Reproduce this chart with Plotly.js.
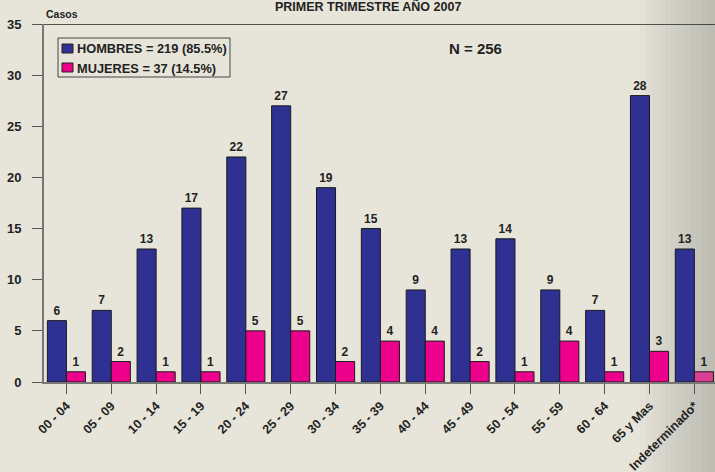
<!DOCTYPE html>
<html>
<head>
<meta charset="utf-8">
<script src="https://cdn.plot.ly/plotly-3.0.1.min.js"></script>
<style>html,body{margin:0;padding:0;background:#E7E5D9;}#chart{width:715px;height:472px;}</style>
</head>
<body>
<div id="chart"></div>
<script>
const categories = ["00 - 04","05 - 09","10 - 14","15 - 19","20 - 24","25 - 29","30 - 34","35 - 39","40 - 44","45 - 49","50 - 54","55 - 59","60 - 64","65 y Mas","Indeterminado*"];
const hombres = [6,7,13,17,22,27,19,15,9,13,14,9,7,28,13];
const mujeres = [1,2,1,1,5,5,2,4,4,2,1,4,1,3,1];
const hombresName = "HOMBRES = 219 (85.5%)";
const mujeresName = "MUJERES = 37 (14.5%)";
const titleText = "PRIMER TRIMESTRE AÑO 2007";
const yTitle = "Casos";
const nText = "N = 256";

const F = "Liberation Sans, Arial, sans-serif";
const blue = "#2E3192";
const pink = "#EC008C";
const pinkColors = mujeres.map((v,i)=> i===mujeres.length-1 ? "#D93E92" : pink);

const traces = [
  {type:"bar", x:categories, y:hombres, name:hombresName, text:hombres.map(String),
   textposition:"outside", cliponaxis:false, showlegend:false,
   textfont:{family:F, size:12, color:"#222", weight:"bold"},
   marker:{color:blue, line:{color:"#1a1a1a", width:1}}},
  {type:"bar", x:categories, y:mujeres, name:mujeresName, text:mujeres.map(String),
   textposition:"outside", cliponaxis:false, showlegend:false,
   textfont:{family:F, size:12, color:"#222", weight:"bold"},
   marker:{color:pinkColors, line:{color:"#1a1a1a", width:1}}}
];

// pixel -> paper helpers (plot area: x 44..715, y 24..382)
const px = x => (x-44)/671;
const py = y => 1 - (y-24)/358;

const shapes = [];
// right-edge shading
const nS = 12;
for (let i=0;i<nS;i++){
  const x0 = 640 + i*(75/nS);
  shapes.push({type:"rect", xref:"paper", yref:"paper",
    x0:px(x0), x1:px(715), y0:-0.3, y1:1.1,
    fillcolor:"rgba(90,85,70,0.025)", line:{width:0}, layer:"below"});
}
shapes.push({type:"line", xref:"paper", yref:"y", x0:0, x1:1, y0:35, y1:35,
  line:{color:"#222", width:1.5}});
// legend box and swatches
shapes.push({type:"rect", xref:"paper", yref:"paper", x0:px(58), x1:px(230), y0:py(77), y1:py(38),
  fillcolor:"#E7E5D9", line:{color:"#444", width:1}});
shapes.push({type:"rect", xref:"paper", yref:"paper", x0:px(62), x1:px(73), y0:py(53), y1:py(44),
  fillcolor:blue, line:{color:"#222", width:1}});
shapes.push({type:"rect", xref:"paper", yref:"paper", x0:px(62), x1:px(73), y0:py(72), y1:py(63),
  fillcolor:pink, line:{color:"#222", width:1}});

const layout = {
  width:715, height:472,
  paper_bgcolor:"#E7E5D9", plot_bgcolor:"rgba(0,0,0,0)",
  margin:{l:44, r:0, t:24, b:90},
  barmode:"group", bargap:0.15, bargroupgap:0,
  showlegend:false,
  xaxis:{type:"category", range:[-0.5,14.46], showgrid:false, zeroline:false,
    showline:true, linecolor:"#777", linewidth:1.5,
    ticks:"outside", ticklen:10, tickcolor:"#555", tickwidth:1,
    tickangle:-45, tickfont:{family:F, size:12.5, color:"#222", weight:"bold"}},
  yaxis:{range:[0,35], tickvals:[0,5,10,15,20,25,30,35], showgrid:false, zeroline:false,
    showline:true, linecolor:"#777", linewidth:2,
    ticks:"outside", ticklen:10, tickcolor:"#555", tickwidth:1,
    ticklabelstandoff:8,
    tickfont:{family:F, size:13, color:"#222", weight:"bold"}},
  shapes:shapes,
  annotations:[
    {text:"<b>"+titleText+"</b>", xref:"paper", yref:"paper", x:px(368), y:py(6),
     xanchor:"center", yanchor:"middle", showarrow:false, font:{family:F, size:12.5, color:"#222"}},
    {text:"<b>"+yTitle+"</b>", xref:"paper", yref:"paper", x:px(44), y:py(14),
     xanchor:"left", yanchor:"middle", showarrow:false, font:{family:F, size:10.5, color:"#222"}},
    {text:"<b>"+nText+"</b>", xref:"paper", yref:"paper", x:px(475), y:py(49),
     xanchor:"center", yanchor:"middle", showarrow:false, font:{family:F, size:15, color:"#222"}},
    {text:"<b>"+hombresName+"</b>", xref:"paper", yref:"paper", x:px(75), y:py(48.5),
     xanchor:"left", yanchor:"middle", showarrow:false, font:{family:F, size:12.8, color:"#222"}},
    {text:"<b>"+mujeresName+"</b>", xref:"paper", yref:"paper", x:px(75), y:py(68),
     xanchor:"left", yanchor:"middle", showarrow:false, font:{family:F, size:12.8, color:"#222"}}
  ]
};
Plotly.newPlot("chart", traces, layout, {displayModeBar:false});
</script>
</body>
</html>
